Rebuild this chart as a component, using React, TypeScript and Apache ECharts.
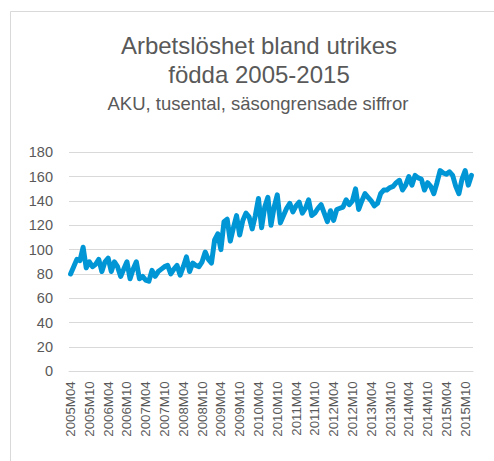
import React, { useEffect, useRef } from "react";
import * as echarts from "echarts";

const titleLines = ["Arbetslöshet bland utrikes", "födda 2005-2015"];
const subtitle = "AKU, tusental, säsongrensade siffror";

const startYear = 2005;
const startMonth = 4;
const monthCount = 129;
const categories: string[] = [];
for (let k = 0; k < monthCount; k++) {
  const m = startMonth - 1 + k;
  const y = startYear + Math.floor(m / 12);
  const mm = (m % 12) + 1;
  categories.push(`${y}M${mm < 10 ? "0" + mm : mm}`);
}

const values = [
  80, 86, 92, 91, 102, 85, 90, 86, 88, 92, 82, 90,
  93, 82, 90, 86, 78, 84, 90, 76, 84, 90, 76, 78,
  75, 74, 83, 78, 82, 84, 86, 87, 80, 84, 87, 79,
  86, 94, 82, 89, 87, 86, 90, 98, 92, 89, 108, 113,
  100, 123, 125, 107, 118, 128, 112, 124, 130, 127, 117, 128,
  142, 118, 135, 143, 120, 135, 145, 122, 128, 134, 138, 131,
  136, 139, 130, 134, 141, 128, 130, 134, 137, 130, 123, 132,
  124, 133, 134, 135, 141, 137, 140, 150, 133, 140, 146, 143,
  140, 136, 138, 146, 149, 149, 151, 152, 155, 157, 149, 153,
  160, 153, 161, 159, 158, 149, 155, 152, 146, 155, 165, 163,
  162, 164, 161, 152, 146, 158, 165, 153, 161,
];

const yMin = 0;
const yMax = 180;
const yStep = 20;

export default function App() {
  const ref = useRef<HTMLDivElement>(null);
  useEffect(() => {
    if (!ref.current) return;
    const chart = echarts.init(ref.current, undefined, { renderer: "svg" });
    const font = "'Liberation Sans', Arial, sans-serif";
    chart.setOption({
      animation: false,
      backgroundColor: "#ffffff",
      graphic: [
        {
          type: "rect",
          shape: { x: 10.5, y: 11.5, width: 700, height: 700 },
          style: { fill: "none", stroke: "#d9d9d9", lineWidth: 1 },
          silent: true,
        },
        {
          type: "text",
          x: 259,
          y: 57,
          style: {
            text: titleLines[0],
            fill: "#595959",
            font: `24px ${font}`,
            align: "center",
            verticalAlign: "bottom",
          },
        },
        {
          type: "text",
          x: 259,
          y: 86,
          style: {
            text: titleLines[1],
            fill: "#595959",
            font: `24px ${font}`,
            align: "center",
            verticalAlign: "bottom",
          },
        },
        {
          type: "text",
          x: 258,
          y: 113,
          style: {
            text: subtitle,
            fill: "#595959",
            font: `18.5px ${font}`,
            align: "center",
            verticalAlign: "bottom",
          },
        },
      ],
      grid: { left: 69, right: 21, top: 152.3, bottom: 89.7, containLabel: false },
      xAxis: {
        type: "category",
        data: categories,
        boundaryGap: true,
        axisLine: { show: true, lineStyle: { color: "#d9d9d9", width: 1 } },
        axisTick: { show: false },
        axisLabel: {
          interval: 5,
          rotate: 90,
          margin: 10,
          color: "#595959",
          fontSize: 13.3,
          fontFamily: font,
        },
      },
      yAxis: {
        type: "value",
        min: yMin,
        max: yMax,
        interval: yStep,
        axisLine: { show: false },
        axisTick: { show: false },
        splitLine: { lineStyle: { color: "#d9d9d9", width: 1 } },
        axisLabel: {
          margin: 16,
          color: "#595959",
          fontSize: 14.5,
          fontFamily: font,
        },
      },
      series: [
        {
          type: "line",
          data: values,
          symbol: "none",
          smooth: false,
          lineStyle: { color: "#0096d6", width: 5, join: "round", cap: "round" },
        },
      ],
    });
    return () => chart.dispose();
  }, []);
  return (
    <div
      ref={ref}
      style={{ position: "absolute", left: 0, top: 0, width: 494, height: 461 }}
    />
  );
}
